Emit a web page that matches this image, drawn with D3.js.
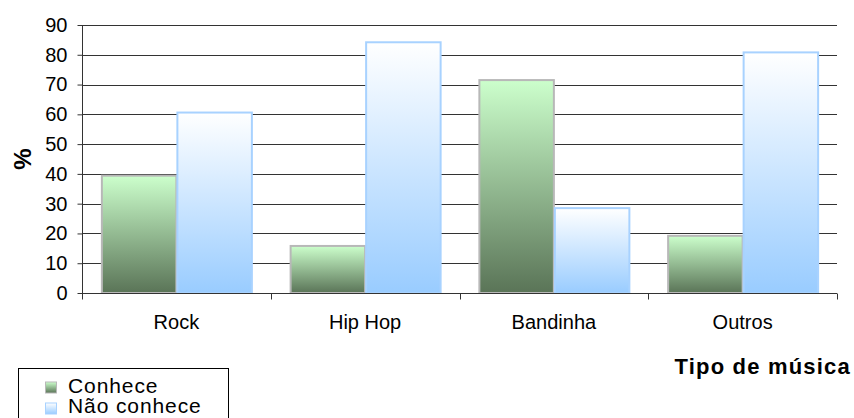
<!DOCTYPE html>
<html>
<head>
<meta charset="utf-8">
<script src="https://cdn.jsdelivr.net/npm/d3@7"></script>
<style>
  body { margin: 0; background: #fff; }
  text { font-family: "Liberation Sans", Arial, sans-serif; fill: #000; }
</style>
</head>
<body>
<div id="chart"></div>
<script>
// data
const categories = ['Rock', 'Hip Hop', 'Bandinha', 'Outros'];
const seriesNames = ['Conhece', 'Não conhece'];
const conhece = [39.4, 15.8, 71.5, 19.2];
const naoConhece = [60.6, 84.2, 28.5, 80.8];
const yTicks = [0, 10, 20, 30, 40, 50, 60, 70, 80, 90];

const width = 854;
const height = 418;
const margin = { top: 25, right: 17, bottom: 125, left: 82 };

const svg = d3.select('#chart')
  .append('svg')
  .attr('width', width)
  .attr('height', height);

// gradients for the two series
const defs = svg.append('defs');
const gGreen = defs.append('linearGradient')
  .attr('id', 'gGreen').attr('x1', 0).attr('y1', 0).attr('x2', 0).attr('y2', 1);
gGreen.append('stop').attr('offset', '0%').attr('stop-color', '#ccffcc');
gGreen.append('stop').attr('offset', '100%').attr('stop-color', '#5a7457');
const gBlue = defs.append('linearGradient')
  .attr('id', 'gBlue').attr('x1', 0).attr('y1', 0).attr('x2', 0).attr('y2', 1);
gBlue.append('stop').attr('offset', '0%').attr('stop-color', '#ffffff');
gBlue.append('stop').attr('offset', '100%').attr('stop-color', '#99ccff');

const fills = ['url(#gGreen)', 'url(#gBlue)'];
const strokes = ['#b8b8b8', '#a8d2ff'];

const x0 = d3.scaleBand()
  .domain(categories)
  .range([margin.left, width - margin.right]);

const bw = x0.bandwidth();
const x1 = d3.scaleBand()
  .domain(seriesNames)
  .range([bw * 0.1, bw * 0.9]);

const y = d3.scaleLinear()
  .domain([0, 90])
  .range([height - margin.bottom, margin.top]);

const bottomY = y(0);

// gridlines
svg.append('g')
  .selectAll('line')
  .data(yTicks.filter(d => d > 0))
  .enter()
  .append('line')
  .attr('x1', margin.left)
  .attr('x2', width - margin.right)
  .attr('y1', d => Math.round(y(d)) + 0.5)
  .attr('y2', d => Math.round(y(d)) + 0.5)
  .attr('stroke', '#333')
  .attr('stroke-width', 1);

// bars
const rows = categories.map((c, i) => ({ cat: c, values: [conhece[i], naoConhece[i]] }));
const groups = svg.append('g')
  .selectAll('g')
  .data(rows)
  .enter()
  .append('g')
  .attr('transform', d => `translate(${x0(d.cat)},0)`);

groups.selectAll('rect')
  .data(d => d.values.map((v, k) => ({ v, k })))
  .enter()
  .append('rect')
  .attr('x', d => x1(seriesNames[d.k]) + 1)
  .attr('width', x1.bandwidth() - 1)
  .attr('y', d => y(d.v))
  .attr('height', d => bottomY - y(d.v))
  .attr('fill', d => fills[d.k])
  .attr('stroke', d => strokes[d.k])
  .attr('stroke-width', 2);

// y axis
const axisY = d3.axisLeft(y).tickValues(yTicks).tickSize(5).tickPadding(10);
const gy = svg.append('g')
  .attr('transform', `translate(${margin.left + 0.5},0)`)
  .call(axisY);
gy.select('.domain').attr('stroke', '#333').attr('d', `M0,${margin.top}V${bottomY + 5}`);
gy.selectAll('.tick line').attr('stroke', '#333');
gy.selectAll('.tick text')
  .attr('font-size', 20)
  .style('font-family', '"Liberation Sans", Arial, sans-serif')
  .attr('fill', '#000');

// x axis
const gx = svg.append('g')
  .attr('transform', `translate(0,${Math.round(bottomY) + 0.5})`);
gx.append('line')
  .attr('x1', margin.left)
  .attr('x2', width - margin.right)
  .attr('stroke', '#333');
gx.selectAll('.sep')
  .data(categories.map(c => x0(c)).concat([width - margin.right]))
  .enter()
  .append('line')
  .attr('x1', d => Math.round(d) + 0.5)
  .attr('x2', d => Math.round(d) + 0.5)
  .attr('y1', 0)
  .attr('y2', 6)
  .attr('stroke', '#333');
gx.selectAll('.lbl')
  .data(categories)
  .enter()
  .append('text')
  .attr('x', d => x0(d) + bw / 2)
  .attr('y', 35)
  .attr('text-anchor', 'middle')
  .attr('font-size', 20)
  .text(d => d);

// axis titles
svg.append('text')
  .attr('transform', `translate(31,${y(45)}) rotate(-90)`)
  .attr('text-anchor', 'middle')
  .attr('font-size', 24)
  .attr('font-weight', 'bold')
  .text('%');

svg.append('text')
  .attr('x', 851)
  .attr('y', 374)
  .attr('text-anchor', 'end')
  .attr('font-size', 22)
  .attr('font-weight', 'bold')
  .attr('letter-spacing', 1.2)
  .text('Tipo de música');

// legend
const legend = svg.append('g').attr('transform', 'translate(18.5,368.5)');
legend.append('rect')
  .attr('width', 210)
  .attr('height', 60)
  .attr('fill', '#fff')
  .attr('stroke', '#000');
seriesNames.forEach((name, i) => {
  legend.append('rect')
    .attr('x', 27)
    .attr('y', 13.5 + i * 21)
    .attr('width', 11)
    .attr('height', 11)
    .attr('fill', fills[i])
    .attr('stroke', strokes[i]);
  legend.append('text')
    .attr('x', 49.5)
    .attr('y', 24.5 + i * 20)
    .attr('font-size', 21)
    .attr('letter-spacing', 0.9)
    .text(name);
});
</script>
</body>
</html>
